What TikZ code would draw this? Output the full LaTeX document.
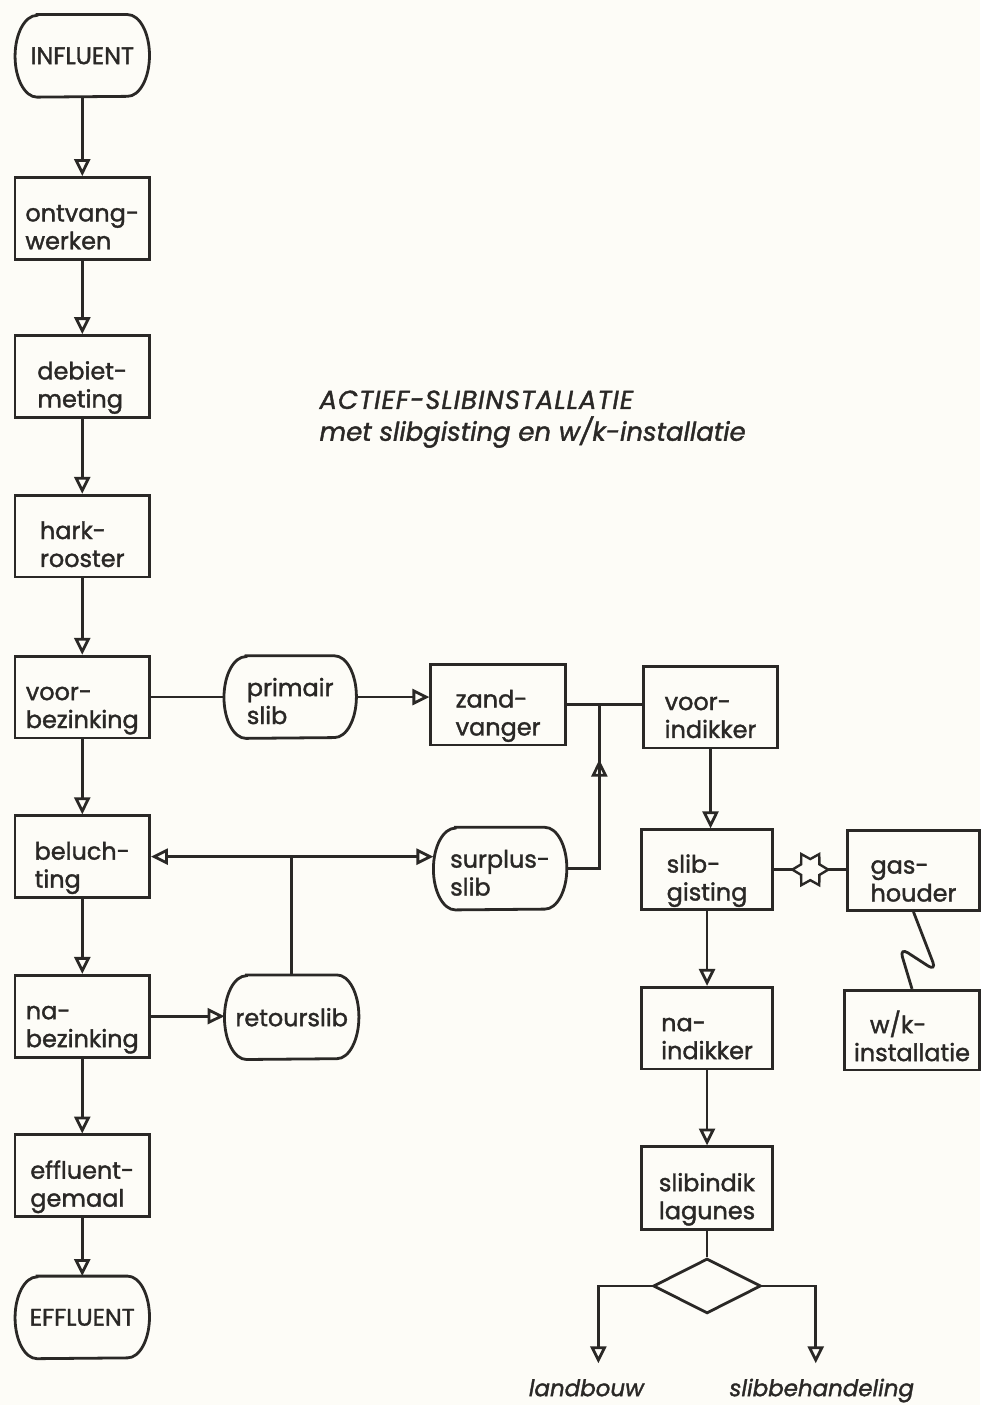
\documentclass[tikz,border=0pt]{standalone}
\usepackage{fontspec}
\setmainfont{Poppins}[FakeBold=1.5]
\usetikzlibrary{arrows.meta,shapes.geometric,shapes.misc,decorations.markings}
\definecolor{paper}{RGB}{253,252,247}
\definecolor{ink}{RGB}{42,40,38}
\newcommand\boxfont{\fontsize{12}{14}\selectfont}
\newcommand\titlefont{\fontsize{13}{16}\selectfont\itshape}
\newcommand\outfont{\fontsize{11.5}{14}\selectfont\itshape}
% outline of a terminator: flat top and bottom, half-elliptic ends
\newcommand\termoutline[2][20.5pt]{%
  \draw[draw=ink, line width=1.4pt]
    ([xshift=11pt]#2.north west) -- ([xshift=-11pt]#2.north east)
    arc[start angle=90, end angle=-90, x radius=11pt, y radius=#1]
    -- ([xshift=11pt]#2.south west)
    arc[start angle=270, end angle=90, x radius=11pt, y radius=#1]
    -- cycle;}
\begin{document}
\begin{tikzpicture}[x=0.5pt, y=-0.5pt,
  opentip/.tip={Triangle[open, length=8.5pt, width=8pt]},
  conn/.style={draw=ink, line width=1.4pt},
  flow/.style={conn, -opentip},
  procbox/.style={draw=ink, line width=1.4pt, minimum width=67.5pt,
    minimum height=41pt, inner sep=0pt, align=left, font=\boxfont, text=ink,
    text height=31pt, text depth=0pt},
  termbox/.style={minimum width=67pt, minimum height=41pt, inner sep=0pt,
    align=left, font=\boxfont, text=ink},
  twoline/.style={text height=27pt, text depth=0pt},
  valve/.style={star, star points=6, star point ratio=1.7, draw=ink,
    line width=1.2pt, fill=paper, minimum size=18pt, inner sep=0pt,
    shape border rotate=30},
  branch/.style={diamond, draw=ink, line width=1.4pt, minimum width=54pt,
    minimum height=27.5pt, inner sep=0pt},
  outlabel/.style={font=\outfont, text=ink, anchor=base}
]
\path[fill=paper] (0,0) rectangle (983,1409);

% main water line
\node[termbox] (influent) at (82.5,56) {INFLUENT};
\termoutline{influent}
\node[procbox] (ontvang) at (82.5,219) {ontvang-\\werken};
\node[procbox] (debiet) at (82.5,377.5) {debiet-\\meting};
\node[procbox] (hark) at (82.5,537.5) {hark-\\rooster};
\node[procbox] (voorbez) at (82.5,699) {voor-\\bezinking};
\node[procbox] (beluch) at (82.5,859) {beluch-\\ting};
\node[procbox] (nabez) at (82.5,1019) {na-\\bezinking};
\node[procbox] (gemaal) at (82.5,1179) {effluent-\\gemaal};
\node[termbox] (effluent) at (82.5,1321) {EFFLUENT};
\termoutline{effluent}

% sludge streams
\node[termbox, twoline, minimum width=66pt] (primair) at (291,699) {primair\\slib};
\termoutline{primair}
\node[termbox, twoline, minimum width=66.5pt] (surplus) at (501.5,871) {surplus-\\slib};
\termoutline{surplus}
\node[termbox, minimum height=42pt] (retour) at (292.5,1020) {retourslib};
\termoutline[21pt]{retour}

% sludge treatment
\node[procbox, minimum height=40.5pt] (zand) at (499.5,706.5) {zand-\\vanger};
\node[procbox] (vi) at (712.5,709) {voor-\\indikker};
\node[procbox, minimum width=66pt, minimum height=40pt] (sg) at (709,872) {slib-\\gisting};
\node[procbox, minimum width=66pt, minimum height=40pt] (gh) at (916,873) {gas-\\houder};
\node[procbox, minimum height=40pt] (wk) at (914.5,1033) {\hspace{8pt}w/k-\\installatie};
\node[procbox, minimum width=66pt] (ni) at (709,1031) {na-\\indikker};
\node[procbox, minimum width=66pt, minimum height=41.5pt] (lag) at (709,1191.5) {slibindik\\lagunes};
\node[branch] (dia) at (709,1289.5) {};

% title
\node[font=\titlefont, text=ink, anchor=base west, inner sep=0pt] (title1) at (320,410)
  {\addfontfeature{LetterSpace=4}ACTIEF-SLIBINSTALLATIE};
\node[font=\titlefont, text=ink, anchor=base west, inner sep=0pt] (title2) at (320,442)
  {met slibgisting en w/k-installatie};

% water flow
\draw[flow] (influent) -- (ontvang);
\draw[flow] (ontvang) -- (debiet);
\draw[flow] (debiet) -- (hark);
\draw[flow] (hark) -- (voorbez);
\draw[flow] (voorbez) -- (beluch);
\draw[flow] (beluch) -- (nabez);
\draw[flow] (nabez) -- (gemaal);
\draw[flow] (gemaal) -- (effluent);

% sludge connections
\draw[conn] (voorbez.east) -- (primair.west);
\draw[flow] (primair.east) -- (primair.east -| zand.west);
\coordinate (jz) at (601,706.5);
\draw[conn] (zand.east) -- (zand.east -| vi.west);
\draw[flow] (nabez.east) -- (nabez.east -| retour.west);
\draw[conn, opentip-opentip] (beluch.east) -- (beluch.east -| surplus.west);
\draw[conn] (retour.north) -- (retour.north |- beluch.east);
\draw[conn, postaction={decorate},
  decoration={markings, mark=at position 0.72 with {\arrow{opentip}}}]
  (surplus.east) -| (jz);

% digestion line
\draw[flow] (vi.south) -- (vi.south |- sg.north);
\draw[conn] (sg.east) -- (sg.east -| gh.west) node[valve, midway] (gasvalve) {};
\draw[conn, rounded corners=5pt] (gh.south) -- (939,974) -- (902,950) -- (wk.north);
\draw[flow] (sg.south) -- (sg.south |- ni.north);
\draw[flow] (ni) -- (lag);
\draw[conn] (lag.south) -- (dia.north);

% disposal
\coordinate (landend) at (600,1367);
\coordinate (behend) at (818,1367);
\draw[flow] (dia.west) -| (landend);
\draw[flow] (dia.east) -| (behend);
\node[outlabel] (landbouw) at (588,1400) {landbouw};
\node[outlabel] (behandeling) at (824,1400) {slibbehandeling};
\end{tikzpicture}
\end{document}
